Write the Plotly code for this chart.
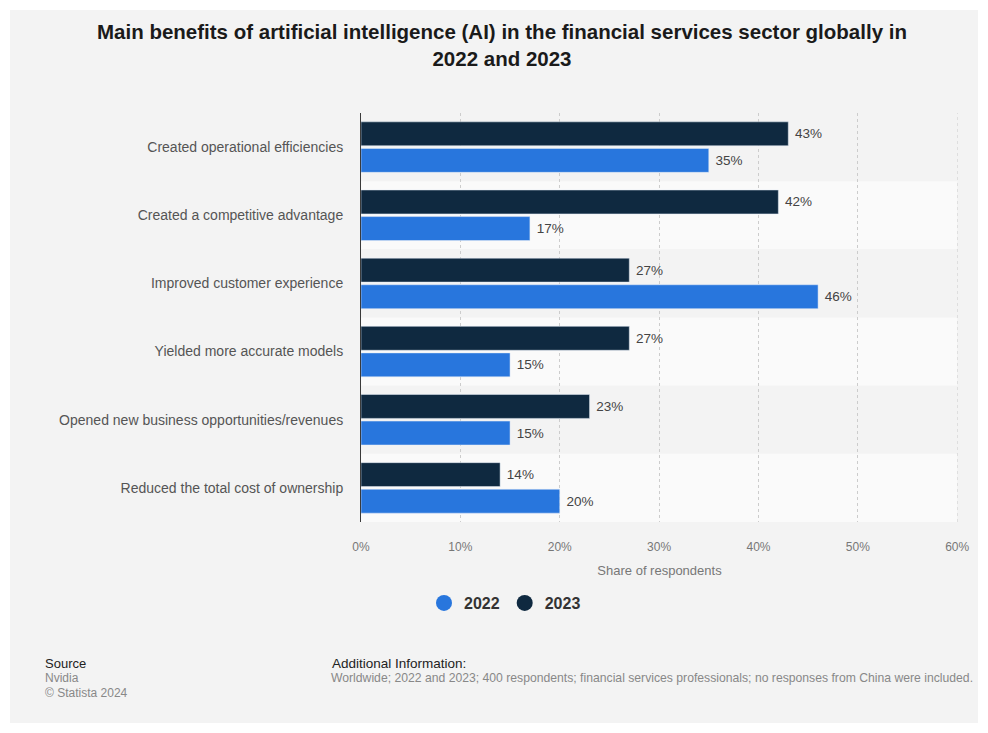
import plotly.graph_objects as go

categories = [
    "Created operational efficiencies",
    "Created a competitive advantage",
    "Improved customer experience",
    "Yielded more accurate models",
    "Opened new business opportunities/revenues",
    "Reduced the total cost of ownership",
]
values_2022 = [35, 17, 46, 15, 15, 20]
values_2023 = [43, 42, 27, 27, 23, 14]
tick_values = [0, 10, 20, 30, 40, 50, 60]
tick_labels = ["0%", "10%", "20%", "30%", "40%", "50%", "60%"]

COLOR_2022 = "#2876dd"
COLOR_2023 = "#0f2940"

W, H = 988, 733
L, R, T, B = 361, 30, 113, 211
PW, PH = W - L - R, H - T - B

def px(x):
    return (x - L) / PW

def py(y):
    return (H - B - y) / PH

FONT = "Liberation Sans, Arial, sans-serif"

fig = go.Figure()
fig.add_trace(go.Bar(
    name="2023", y=categories, x=values_2023, orientation="h",
    marker=dict(color=COLOR_2023), showlegend=False,
    text=[f" {v}%" for v in values_2023], textposition="outside",
    textfont=dict(size=13.5, color="#444444", family=FONT),
    cliponaxis=False,
))
fig.add_trace(go.Bar(
    name="2022", y=categories, x=values_2022, orientation="h",
    marker=dict(color=COLOR_2022), showlegend=False,
    text=[f" {v}%" for v in values_2022], textposition="outside",
    textfont=dict(size=13.5, color="#444444", family=FONT),
    cliponaxis=False,
))
# legend entries with circle symbols
for name, col in [("2022", COLOR_2022), ("2023", COLOR_2023)]:
    fig.add_trace(go.Scatter(
        name=name, x=[None], y=[None], mode="markers",
        marker=dict(symbol="circle", size=17, color=col), showlegend=True,
    ))

shapes = [dict(type="rect", xref="paper", yref="paper",
               x0=px(10), x1=px(978), y0=py(723), y1=py(10),
               fillcolor="#f3f3f3", line=dict(width=0), layer="below")]
for i, c in enumerate(categories):
    shapes.append(dict(type="rect", xref="x", yref="y",
                       x0=0, x1=tick_values[-1], y0=i - 0.5, y1=i + 0.5,
                       fillcolor="#fafafa" if i % 2 == 1 else "#f3f3f3",
                       line=dict(width=0), layer="below"))
# last (60%) gridline at the edge of the plot area
shapes.append(dict(type="line", xref="x", yref="paper",
                   x0=tick_values[-1], x1=tick_values[-1], y0=0, y1=1,
                   line=dict(color="#cccccc", width=1, dash="dot"), layer="below"))

annotations = [
    dict(text="Source", x=px(43), y=py(663), xref="paper", yref="paper",
         xanchor="left", yanchor="middle", showarrow=False,
         font=dict(size=13, color="#222222", family=FONT)),
    dict(text="Nvidia", x=px(43), y=py(678), xref="paper", yref="paper",
         xanchor="left", yanchor="middle", showarrow=False,
         font=dict(size=12, color="#888888", family=FONT)),
    dict(text="© Statista 2024", x=px(43), y=py(693), xref="paper", yref="paper",
         xanchor="left", yanchor="middle", showarrow=False,
         font=dict(size=12, color="#888888", family=FONT)),
    dict(text="Additional Information:", x=px(330), y=py(663), xref="paper", yref="paper",
         xanchor="left", yanchor="middle", showarrow=False,
         font=dict(size=13.5, color="#222222", family=FONT)),
    dict(text="Worldwide; 2022 and 2023; 400 respondents; financial services professionals; no responses from China were included.",
         x=px(329), y=py(678), xref="paper", yref="paper",
         xanchor="left", yanchor="middle", showarrow=False,
         font=dict(size=12.2, color="#888888", family=FONT)),
]

fig.update_layout(
    width=W, height=H,
    margin=dict(l=L, r=R, t=T, b=B, pad=0),
    paper_bgcolor="white", plot_bgcolor="rgba(0,0,0,0)",
    title=dict(text="<b>Main benefits of artificial intelligence (AI) in the financial services sector globally in<br>2022 and 2023</b>",
               x=502 / W, xref="container", xanchor="center", y=1 - 39 / H, yanchor="middle",
               font=dict(size=20.5, color="#1a1a1a", family=FONT)),
    barmode="group", bargap=0.22, bargroupgap=0.1,
    showlegend=True,
    legend=dict(orientation="h", x=px(505), xanchor="center", y=py(603), yanchor="middle",
                font=dict(size=16, color="#333333", family=FONT, weight="bold"),
                bgcolor="rgba(0,0,0,0)", itemwidth=30, tracegroupgap=0),
    shapes=shapes,
    annotations=annotations,
    font=dict(family=FONT),
)
fig.update_xaxes(
    range=[0, 60.08], tickvals=tick_values, ticktext=tick_labels,
    showgrid=True, gridcolor="#cccccc", griddash="dot", gridwidth=1,
    zeroline=False, showline=False,
    ticks="outside", ticklen=14, tickcolor="rgba(0,0,0,0)",
    tickfont=dict(size=12, color="#777777", family=FONT),
    title=dict(text="Share of respondents", font=dict(size=13, color="#777777", family=FONT), standoff=12),
)
fig.update_yaxes(
    autorange="reversed", showgrid=False, zeroline=False,
    showline=True, linecolor="#3a3a3a", linewidth=1,
    ticks="outside", ticklen=14, tickcolor="rgba(0,0,0,0)",
    tickfont=dict(size=14, color="#555555", family=FONT),
)

fig.write_html("out.html", config={"displayModeBar": False},
               post_script="document.body.style.margin='0';")
